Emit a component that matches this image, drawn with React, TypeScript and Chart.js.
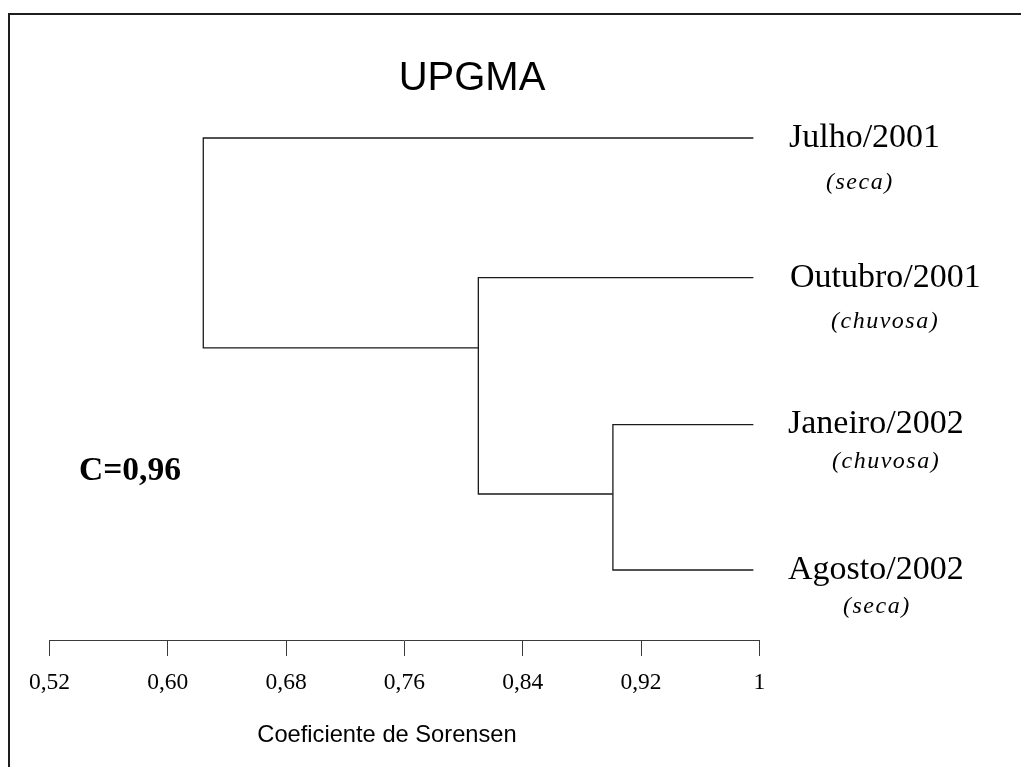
import React, { useEffect, useRef } from "react";
import { Chart, registerables } from "chart.js";

Chart.register(...registerables);

// ---- data ----
const leafNames = ["Julho/2001", "Outubro/2001", "Janeiro/2002", "Agosto/2002"];
const leafSeasons = ["(seca)", "(chuvosa)", "(chuvosa)", "(seca)"];
const leafRows = [1, 1.97, 2.99, 4];
const leafEnd = 0.996;
// merges (UPGMA linkage): child A, child B, similarity level, row of the new node
const mergeA = ["Janeiro/2002", "Outubro/2001", "Julho/2001"];
const mergeB = ["Agosto/2002", "N1", "N2"];
const mergeLevels = [0.901, 0.81, 0.624];
const mergeRows = [3.472, 2.458, 1.73];
const tickValues = [0.52, 0.6, 0.68, 0.76, 0.84, 0.92, 1];
const titleText = "UPGMA";
const axisTitle = "Coeficiente de Sorensen";
const corrText = "C=0,96";

// ---- styling / layout constants ----
const W = 1021;
const H = 767;
const SERIF = '"Liberation Serif", "Times New Roman", serif';
const SANS = '"Liberation Sans", Arial, sans-serif';
const labelLeft = [789, 790, 788, 788];
const seasonLeft = [826, 831, 832, 843];
const seasonDy = [45, 44, 37, 37];

function nodePos(name: string) {
  const li = leafNames.indexOf(name);
  if (li >= 0) return { x: leafEnd, y: leafRows[li] };
  const ni = parseInt(name.slice(1), 10) - 1;
  return { x: mergeLevels[ni], y: mergeRows[ni] };
}

const datasets = mergeLevels.map((h, i) => {
  const a = nodePos(mergeA[i]);
  const b = nodePos(mergeB[i]);
  return {
    label: `node${i + 1}`,
    data: [
      { x: a.x, y: a.y },
      { x: h, y: a.y },
      { x: h, y: b.y },
      { x: b.x, y: b.y },
    ],
    showLine: true,
    borderColor: "#1a1a1a",
    borderWidth: 1.3,
    pointRadius: 0,
    tension: 0,
    fill: false,
  };
});

const annotations = {
  id: "annotations",
  afterDraw(chart: any) {
    const ctx = chart.ctx;
    const ys = chart.scales.y;
    ctx.save();
    // outer frame
    ctx.strokeStyle = "#1e1e1e";
    ctx.lineWidth = 2;
    ctx.beginPath();
    ctx.moveTo(W, 14);
    ctx.lineTo(9, 14);
    ctx.lineTo(9, H);
    ctx.stroke();

    ctx.fillStyle = "#000";
    // title
    ctx.font = `40px ${SANS}`;
    ctx.textAlign = "center";
    ctx.textBaseline = "middle";
    ctx.fillText(titleText, 472, 79);
    // axis title
    ctx.font = `23.7px ${SANS}`;
    ctx.fillText(axisTitle, 387, 735);
    // cophenetic correlation
    ctx.font = `bold 33.5px ${SERIF}`;
    ctx.textAlign = "left";
    ctx.fillText(corrText, 79, 471);
    // leaf labels
    leafNames.forEach((name, i) => {
      const y = ys.getPixelForValue(leafRows[i]);
      ctx.font = `34px ${SERIF}`;
      ctx.textAlign = "left";
      ctx.textBaseline = "middle";
      (ctx as any).letterSpacing = "0px";
      ctx.fillText(name, labelLeft[i], y);
      ctx.font = `italic 24px ${SERIF}`;
      (ctx as any).letterSpacing = "1.5px";
      ctx.fillText(leafSeasons[i], seasonLeft[i], y + seasonDy[i]);
      (ctx as any).letterSpacing = "0px";
    });
    ctx.restore();
  },
};

export default function App() {
  const ref = useRef<HTMLCanvasElement | null>(null);
  useEffect(() => {
    if (!ref.current) return;
    const chart = new Chart(ref.current, {
      type: "scatter",
      data: { datasets: datasets as any },
      options: {
        responsive: false,
        animation: false,
        events: [],
        layout: { padding: { left: 49.5, right: W - 759.3, top: 66, bottom: 0 } },
        plugins: {
          legend: { display: false },
          tooltip: { enabled: false },
          title: { display: false },
        },
        scales: {
          x: {
            type: "linear",
            min: tickValues[0],
            max: tickValues[tickValues.length - 1],
            afterBuildTicks: (scale: any) => {
              scale.ticks = tickValues.map((v) => ({ value: v }));
            },
            afterFit: (scale: any) => {
              scale.height = H - 640;
            },
            ticks: {
              autoSkip: false,
              maxRotation: 0,
              padding: 13,
              color: "#000",
              font: { family: SERIF, size: 23.5 },
              callback: (v: any) =>
                Number(v) === 1 ? "1" : Number(v).toFixed(2).replace(".", ","),
            },
            grid: {
              drawOnChartArea: false,
              drawTicks: true,
              tickLength: 16,
              color: "#3a3a3a",
              lineWidth: 1,
            },
            border: { display: true, color: "#3a3a3a", width: 1 },
          },
          y: {
            type: "linear",
            reverse: true,
            min: 0.5,
            max: 4.486,
            display: false,
          },
        },
      },
      plugins: [annotations],
    });
    return () => chart.destroy();
  }, []);
  return (
    <div style={{ position: "absolute", left: 0, top: 0, width: W, height: H, background: "#fff" }}>
      <canvas ref={ref} width={W} height={H} style={{ display: "block" }} />
    </div>
  );
}
